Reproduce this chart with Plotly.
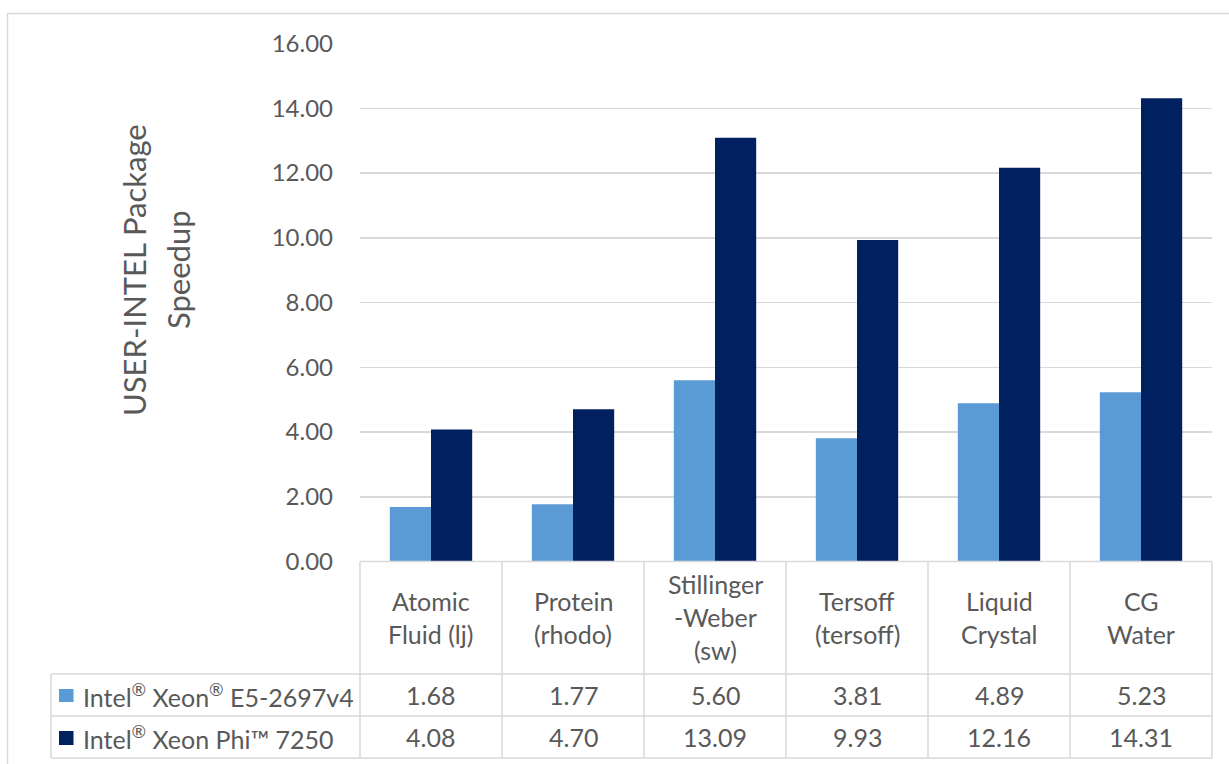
import plotly.graph_objects as go

categories = ["Atomic<br>Fluid (lj)", "Protein<br>(rhodo)", "Stillinger<br>-Weber<br>(sw)",
              "Tersoff<br>(tersoff)", "Liquid<br>Crystal", "CG<br>Water"]
series_names = ["Intel<sup>®</sup> Xeon<sup>®</sup> E5-2697v4", "Intel<sup>®</sup> Xeon Phi™ 7250"]
xeon_values = [1.68, 1.77, 5.60, 3.81, 4.89, 5.23]
phi_values = [4.08, 4.70, 13.09, 9.93, 12.16, 14.31]
series_values = [xeon_values, phi_values]
series_colors = ["#5B9BD5", "#002060"]
y_title_lines = ["USER-INTEL Package", "Speedup"]

W, H = 1229, 764
FONT = "Lato"
TXT = "#595959"
GRID = "#D9D9D9"

def px(x):
    return x / W

def py(y):
    return 1 - y / H

x_left, x_right = 360, 1212
y_zero, y_top = 561.5, 43.5
x_idx = list(range(len(categories)))

fig = go.Figure()
for name, vals, col in zip(series_names, series_values, series_colors):
    fig.add_trace(go.Bar(x=x_idx, y=vals, name=name, marker=dict(color=col, line=dict(width=0)),
                         hoverinfo="skip"))

fig.update_layout(
    width=W, height=H,
    margin=dict(l=0, r=0, t=0, b=0, pad=0, autoexpand=False),
    paper_bgcolor="white", plot_bgcolor="white",
    barmode="group", bargap=0.42, bargroupgap=0,
    showlegend=False,
    font=dict(family=FONT, color=TXT),
    xaxis=dict(domain=[px(x_left), px(x_right)], range=[-0.5, len(categories) - 0.5], automargin=False,
               showticklabels=False, showgrid=False, zeroline=False, showline=False, fixedrange=True),
    yaxis=dict(domain=[py(y_zero), py(y_top)], range=[0, 16], dtick=2, tickformat=".2f", automargin=False,
               showgrid=True, gridcolor=GRID, gridwidth=1.5, zeroline=False, showline=False, fixedrange=True,
               ticks="", ticklabelstandoff=26, tickfont=dict(size=24, color=TXT, family=FONT)),
)

shapes = []
# outer border
shapes.append(dict(type="rect", xref="paper", yref="paper", x0=px(7.5), x1=px(1240), y0=py(13.5), y1=py(780),
                   line=dict(color="#D9D9D9", width=1.5), fillcolor="rgba(0,0,0,0)"))
# table lines
tab_top, row1, row2, tab_bot = 561.5, 674, 716, 758
tab_left = 51
def hline(y, x0, x1):
    shapes.append(dict(type="line", xref="paper", yref="paper", x0=px(x0), x1=px(x1), y0=py(y), y1=py(y),
                       line=dict(color=GRID, width=1.5)))
def vline(x, y0, y1):
    shapes.append(dict(type="line", xref="paper", yref="paper", x0=px(x), x1=px(x), y0=py(y0), y1=py(y1),
                       line=dict(color=GRID, width=1.5)))
hline(tab_top, x_left, x_right)
for y in (row1, row2, tab_bot):
    hline(y, tab_left, x_right)
vline(tab_left, row1, tab_bot)
cw = (x_right - x_left) / len(categories)
for k in range(len(categories) + 1):
    vline(x_left + k * cw, tab_top, tab_bot)

# legend keys
key_rows = [(689, 702), (731, 745)]
for (y0, y1), col in zip(key_rows, series_colors):
    shapes.append(dict(type="rect", xref="paper", yref="paper", x0=px(59), x1=px(73.5), y0=py(y1), y1=py(y0),
                       line=dict(width=0), fillcolor=col))
fig.update_layout(shapes=shapes)

ann = []
header_center = 617
line_step = 33
for i, c in enumerate(categories):
    lines = c.split("<br>")
    n = len(lines)
    for j, line in enumerate(lines):
        yc = header_center + (j - (n - 1) / 2) * line_step
        ann.append(dict(xref="x", yref="paper", x=i, y=py(yc), text=line, showarrow=False,
                        xanchor="center", yanchor="middle", font=dict(size=25, color=TXT, family=FONT)))
row_centers = [695, 737]
for r, vals in enumerate(series_values):
    for i, v in enumerate(vals):
        ann.append(dict(xref="x", yref="paper", x=i, y=py(row_centers[r]), text=f"{v:.2f}", showarrow=False,
                        xanchor="center", yanchor="middle", font=dict(size=25, color=TXT, family=FONT)))
    ann.append(dict(xref="paper", yref="paper", x=px(81), y=py(row_centers[r]), text=series_names[r],
                    showarrow=False, xanchor="left", yanchor="middle", font=dict(size=25, color=TXT, family=FONT)))
for k, line in enumerate(y_title_lines):
    ann.append(dict(xref="paper", yref="paper", x=px(134 + 44 * k), y=py(270), text=line, showarrow=False,
                    textangle=-90, xanchor="center", yanchor="middle", font=dict(size=31, color=TXT, family=FONT)))
fig.update_layout(annotations=ann)

fig.write_html("out.html", config={"displayModeBar": False, "staticPlot": True},
               post_script="document.body.style.margin='0';document.body.style.overflow='hidden';")
